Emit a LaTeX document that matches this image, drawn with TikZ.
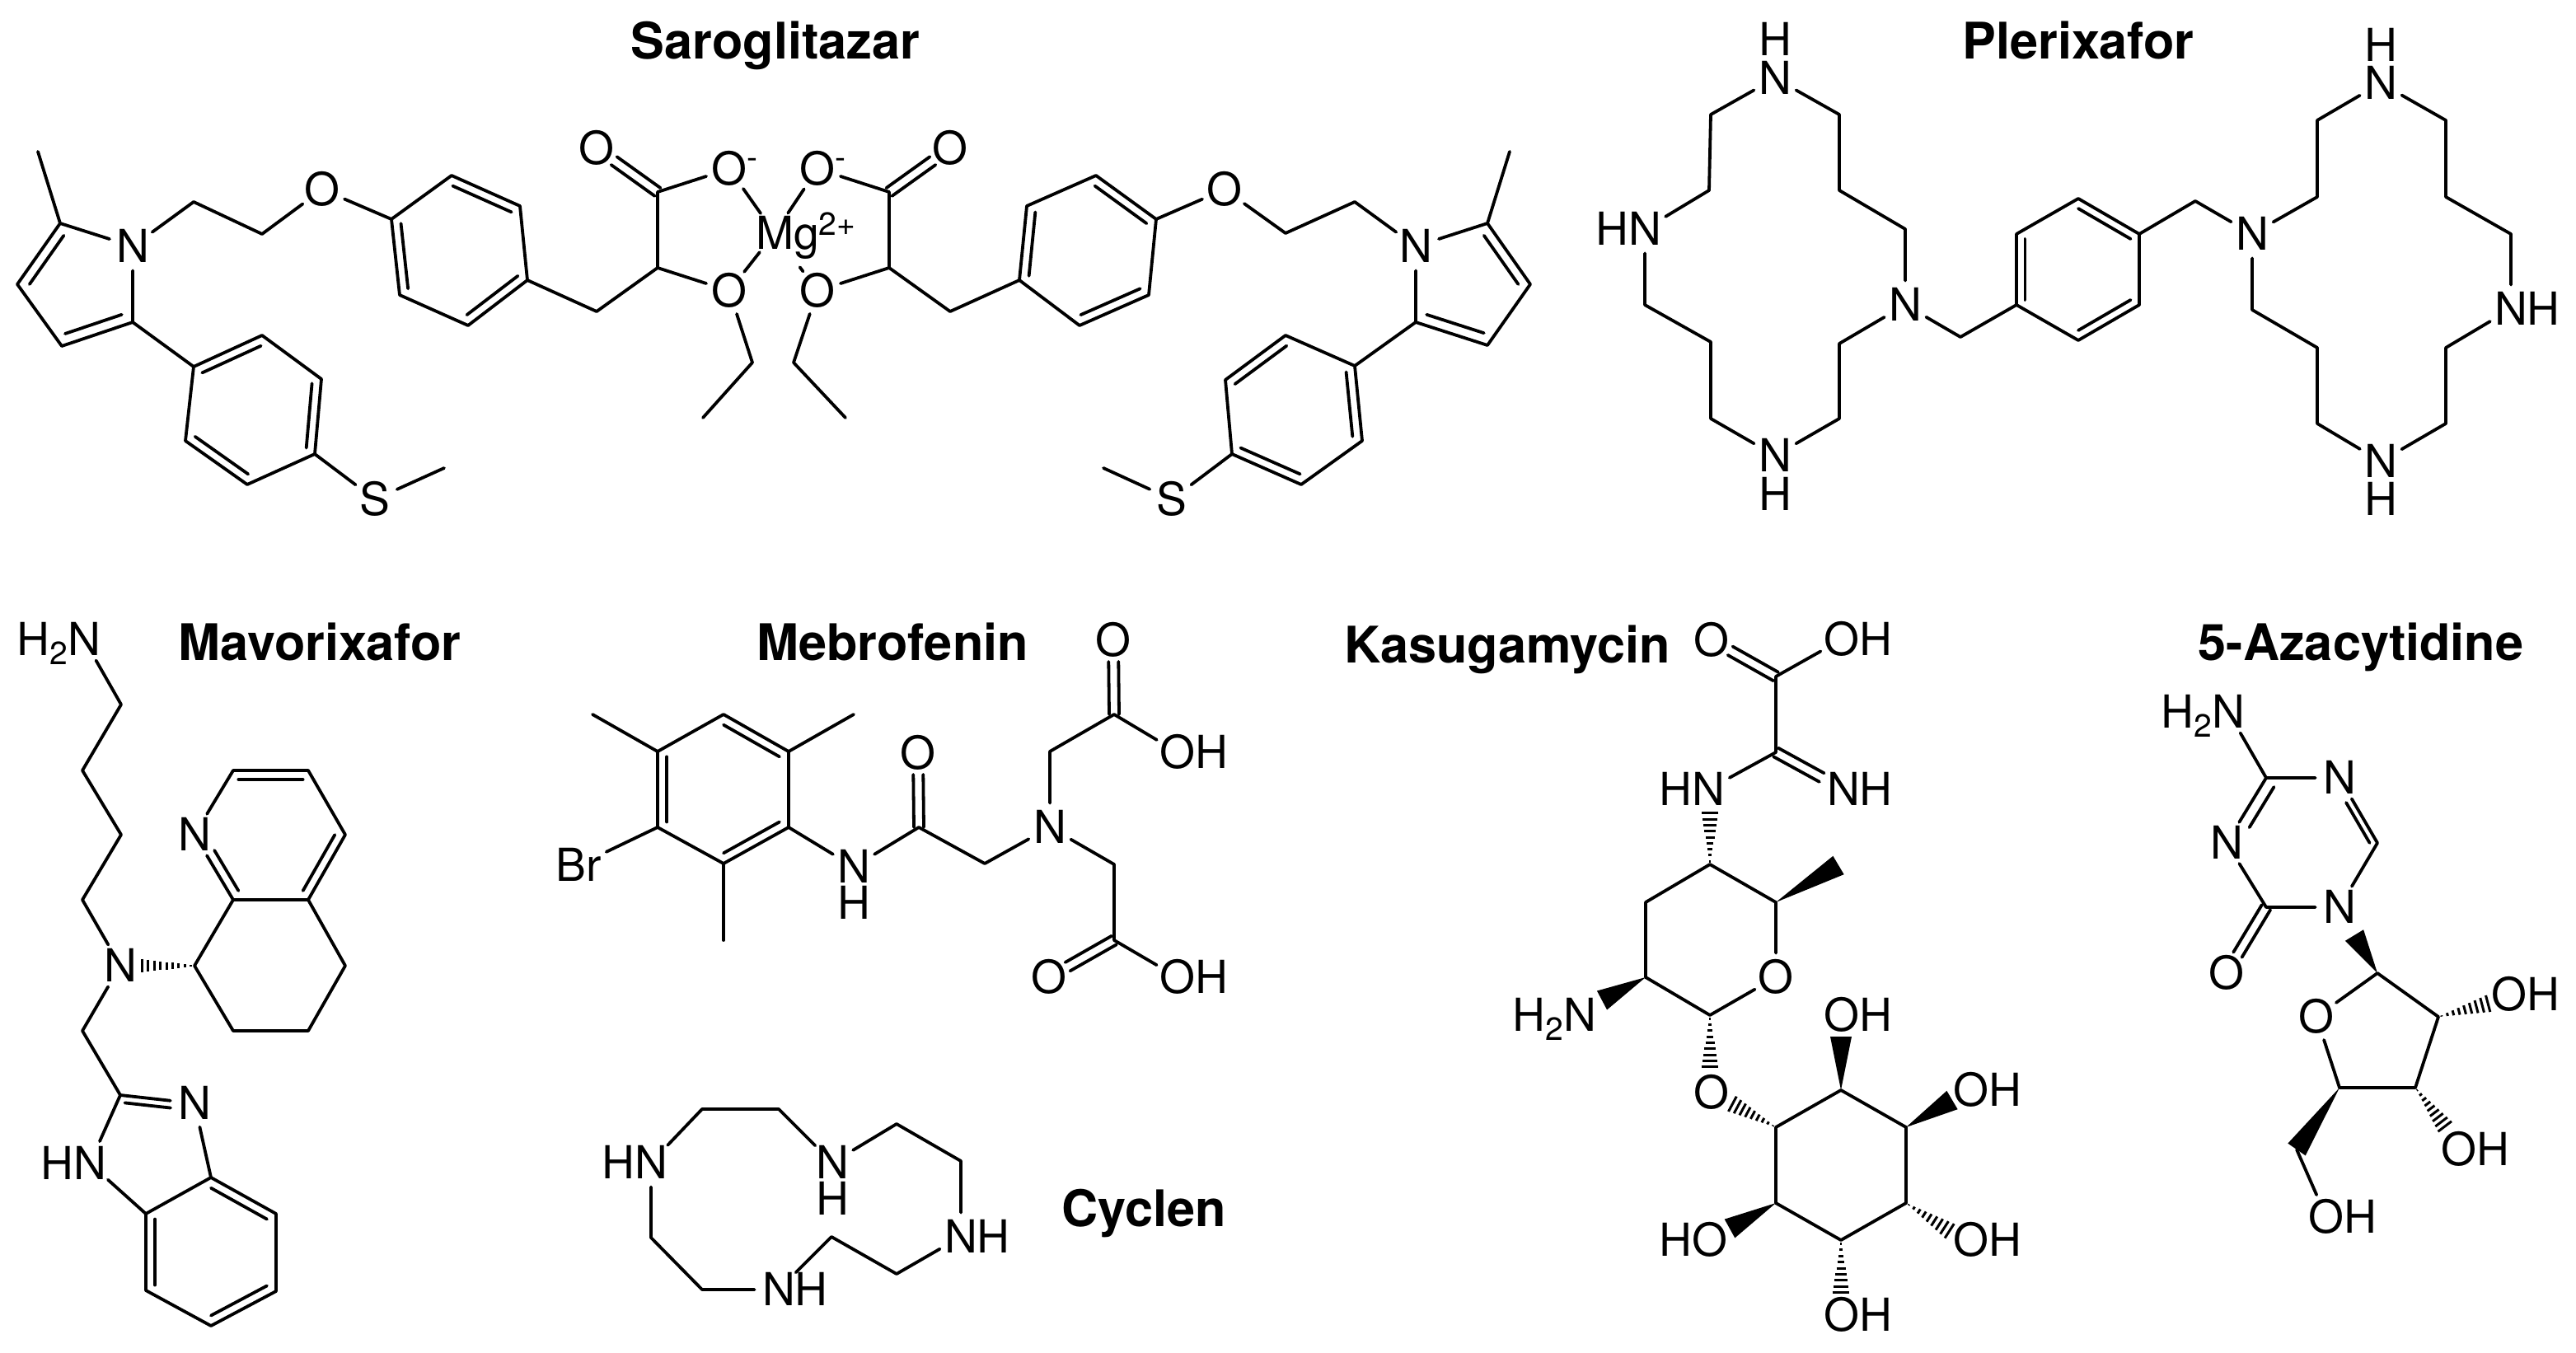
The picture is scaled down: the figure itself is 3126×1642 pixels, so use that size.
\documentclass[tikz,border=0pt]{standalone}
\usepackage{fontspec}
\setmainfont{TeX Gyre Heros}
\usetikzlibrary{calc}
\newcommand\atxt[3]{\makebox[0pt][c]{\raisebox{-.36em}[0pt][0pt]{\llap{#1}#2\rlap{#3}}}}
\newcommand\atom[5]{\node[atom] (#1) at (#2) {\atxt{#3}{#4}{#5}};}
\newcommand\lone[3]{\node[atom] (#1) at (#2) {\atxt{}{#3}{}};}
\newcommand\pts[1]{\foreach \nm/\xx/\yy in {#1} {\coordinate (\nm) at (\xx,\yy);}}
\newcommand\subtwo{\raisebox{-.2em}{\fontsize{19.5}{20}\selectfont 2}}
\newcommand\minus{\raisebox{.37em}{\fontsize{19.5}{20}\selectfont -}}
\def\rf{.14}
\newcommand\ringb[4][]{\draw[bd,#1] ($(#2)!\rf!(#4)$) -- ($(#3)!\rf!(#4)$);}
\newcommand\dblb[3][shorten >=13pt]{%
  \draw[bd,#1] ($(#2)!3pt!90:(#3)$) -- ($(#3)!3pt!-90:(#2)$);
  \draw[bd,#1] ($(#2)!3pt!-90:(#3)$) -- ($(#3)!3pt!90:(#2)$);}
\newcommand\wdg[3][6.5]{\fill[black] (#2) -- ($(#3)!#1pt!90:(#2)$) -- ($(#3)!#1pt!-90:(#2)$) -- cycle;}
\newcommand\hsh[3][5.5]{%
  \coordinate (hL) at ($(#3)!#1pt!90:(#2)$);
  \coordinate (hR) at ($(#3)!#1pt!-90:(#2)$);
  \foreach \hf in {.06,.17,.28,.39,.50,.61,.72,.83,.94}{\draw[hashb] ($(#2)!\hf!(hL)$) -- ($(#2)!\hf!(hR)$);}}
\tikzset{
  bd/.style={line width=1.9pt,line cap=round,line join=round,black},
  hashb/.style={line width=1.5pt,black},
  atom/.style={circle,inner sep=0pt,minimum size=29pt,font=\fontsize{27.6}{30}\selectfont,text=black},
  title/.style={anchor=base,inner sep=0pt,font=\fontsize{30.6}{33}\selectfont\bfseries,text=black}
}
\begin{document}
\begin{tikzpicture}[x=0.5pt,y=-0.5pt]
\fill[white] (0,0) rectangle (3126,1642);
\useasboundingbox (0,0) rectangle (3126,1642);
% titles
\node[title] (tSar) at (941,72) {Saroglitazar};
\node[title] (tPle) at (2522,72) {Plerixafor};
\node[title] (tMav) at (388,801) {Mavorixafor};
\node[title] (tMeb) at (1083,801) {Mebrofenin};
\node[title] (tKas) at (1829,804) {Kasugamycin};
\node[title] (tAza) at (2865,801) {5-Azacytidine};
\node[title] (tCyc) at (1388,1488) {Cyclen};

% ---------- Saroglitazar ----------
\pts{a1/46/184,a2/73/271,a3/21/345,a4/75/420,a5/161/391,a6/235/245,a7/318/284,
 ar1/475/266,ar2/548/213,ar3/631/250,ar4/640/340,ar5/568/395,ar6/485/358,
 a8/724/378,a9/798/325,a10/798/233,a11/913/440,a12/853/507,
 br1/235/445,br2/318/407,br3/390/460,br4/382/551,br5/300/588,br6/225/535,a13/539/568,
 apc/95/345}
\coordinate (arc) at ($(ar1)!.5!(ar4)$);
\coordinate (brc) at ($(br1)!.5!(br4)$);
\atom{aN}{161,299}{}{N}{}
\atom{aO}{391,230}{}{O}{}
\atom{aO1}{724,180}{}{O}{}
\atom{aO2}{885,205}{}{O}{\minus}
\atom{aO3}{885,353}{}{O}{}
\atom{aS}{455,606}{}{S}{}
\atom{mg}{940,283}{}{M}{g\raisebox{.31em}{\fontsize{19.5}{20}\selectfont 2+}}
\draw[bd] (a1)--(a2)--(aN)--(a5)--(a4)--(a3)--(a2);
\draw[bd] (aN)--(a6)--(a7)--(aO)--(ar1)--(ar2)--(ar3)--(ar4)--(ar5)--(ar6)--(ar1);
\draw[bd] (ar4)--(a8)--(a9)--(a10)--(aO2);
\draw[bd] (a9)--(aO3)--(a11)--(a12);
\draw[bd] (a5)--(br1)--(br2)--(br3)--(br4)--(br5)--(br6)--(br1);
\draw[bd] (br4)--(aS)--(a13);
\draw[bd] (aO2)--(mg); \draw[bd] (aO3)--(mg);
\dblb{a10}{aO1}
\def\rf{.2}
\ringb{a2}{a3}{apc} \ringb{a4}{a5}{apc}
\def\rf{.14}
\ringb{ar1}{ar6}{arc} \ringb{ar2}{ar3}{arc} \ringb{ar4}{ar5}{arc}
\ringb{br1}{br2}{brc} \ringb{br3}{br4}{brc} \ringb{br5}{br6}{brc}
% right half
\pts{c1/1832/184,c2/1805/271,c3/1857/345,c4/1805/419,c5/1718/391,c6/1644/245,c7/1560/283,
 cr1/1403/266,cr2/1330/213,cr3/1246/250,cr4/1237/340,cr5/1310/395,cr6/1394/358,
 c8/1153/378,c9/1079/325,c10/1079/233,c11/963/440,c12/1026/507,
 dr1/1644/444,dr2/1560/407,dr3/1487/461,dr4/1495/551,dr5/1579/588,dr6/1653/535,c13/1339/568,
 cpc/1784/345}
\coordinate (crc) at ($(cr1)!.5!(cr4)$);
\coordinate (drc) at ($(dr1)!.5!(dr4)$);
\atom{cN}{1718,299}{}{N}{}
\atom{cO}{1486,230}{}{O}{}
\atom{cO1}{1153,180}{}{O}{}
\atom{cO2}{992,205}{}{O}{\minus}
\atom{cO3}{992,353}{}{O}{}
\atom{cS}{1422,606}{}{S}{}
\draw[bd] (c1)--(c2)--(cN)--(c5)--(c4)--(c3)--(c2);
\draw[bd] (cN)--(c6)--(c7)--(cO)--(cr1)--(cr2)--(cr3)--(cr4)--(cr5)--(cr6)--(cr1);
\draw[bd] (cr4)--(c8)--(c9)--(c10)--(cO2);
\draw[bd] (c9)--(cO3)--(c11)--(c12);
\draw[bd] (c5)--(dr1)--(dr2)--(dr3)--(dr4)--(dr5)--(dr6)--(dr1);
\draw[bd] (dr4)--(cS)--(c13);
\draw[bd] (cO2)--(mg); \draw[bd,shorten >=11pt] (cO3)--(mg);
\dblb{c10}{cO1}
\def\rf{.2}
\ringb{c2}{c3}{cpc} \ringb{c4}{c5}{cpc}
\def\rf{.14}
\ringb{cr3}{cr4}{crc} \ringb{cr1}{cr2}{crc} \ringb{cr5}{cr6}{crc}
\ringb{dr1}{dr6}{drc} \ringb{dr2}{dr3}{drc} \ringb{dr4}{dr5}{drc}

% ---------- Plerixafor ----------
\pts{p1/2232/139,p2/2232/231,p3/2312/278,p4/2232/417,p5/2232/508,p6/2076/508,p7/2076/415,p8/1996/370,
 p9/2074/231,p10/2076/139,p11/2379/409,
 q1/2447/370,q2/2447/284,q3/2522/241,q4/2596/284,q5/2596/370,q6/2522/413,p12/2664/244,
 s1/2812/239,s2/2812/146,s3/2968/146,s4/2968/239,s5/3047/284,s6/2968/422,s7/2968/514,
 s8/2812/514,s9/2812/422,s10/2733/376}
\coordinate (qc) at ($(q1)!.5!(q4)$);
\atom{pN1}{2154,95}{}{N}{}
\lone{pH1}{2154,48}{H}
\atom{pN2}{2312,370}{}{N}{}
\atom{pN3}{2154,553}{}{N}{}
\lone{pH3}{2154,600}{H}
\atom{pN4}{1996,278}{H}{N}{}
\atom{sN1}{2733,284}{}{N}{}
\atom{sN2}{2889,101}{}{N}{}
\lone{sH2}{2889,55}{H}
\atom{sN3}{3047,375}{}{N}{H}
\atom{sN4}{2889,560}{}{N}{}
\lone{sH4}{2889,606}{H}
\draw[bd] (pN1)--(p1)--(p2)--(p3)--(pN2)--(p4)--(p5)--(pN3)--(p6)--(p7)--(p8)--(pN4)--(p9)--(p10)--(pN1);
\draw[bd] (pN2)--(p11)--(q1)--(q2)--(q3)--(q4)--(q5)--(q6)--(q1);
\draw[bd] (q4)--(p12)--(sN1)--(s1)--(s2)--(sN2)--(s3)--(s4)--(s5)--(sN3)--(s6)--(s7)--(sN4)--(s8)--(s9)--(s10)--(sN1);
\ringb{q1}{q2}{qc} \ringb{q3}{q4}{qc} \ringb{q5}{q6}{qc}

% ---------- Mavorixafor ----------
\pts{m1/147/855,m2/100/935,m3/147/1013,m4/100/1092,m5/100/1251,m6/146/1329,
 n1/177/1473,n2/256/1429,n3/335/1473,n4/335/1567,n5/256/1609,n6/177/1566,
 k1/283/1092,k2/374/1092,k3/283/935,k4/374/935,k5/419/1013,k6/419/1172,k7/374/1251,k8/283/1251,k9/236/1172,
 m7/168/1172,imc/185/1396}
\coordinate (nc) at ($(n1)!.5!(n4)$);
\coordinate (kc) at ($(k1)!.5!(k4)$);
\atom{mN0}{102,776}{H\subtwo}{N}{}
\atom{mN1}{146,1172}{}{N}{}
\atom{mN2}{236,1339}{}{N}{}
\atom{mN3}{109,1412}{H}{N}{}
\atom{mN4}{236,1013}{}{N}{}
\draw[bd] (mN0)--(m1)--(m2)--(m3)--(m4)--(mN1)--(m5)--(m6)--(mN2)--(n2);
\draw[bd] (m6)--(mN3)--(n1)--(n2)--(n3)--(n4)--(n5)--(n6)--(n1);
\draw[bd] (mN4)--(k3)--(k4)--(k5)--(k2)--(k1)--(mN4);
\draw[bd] (k1)--(k9)--(k8)--(k7)--(k6)--(k2);
\hsh[4.5]{k9}{m7}
\ringb{n1}{n6}{nc} \ringb{n2}{n3}{nc} \ringb{n4}{n5}{nc}
\ringb{k3}{k4}{kc} \ringb{k5}{k2}{kc}
\ringb[shorten <=11pt]{mN4}{k1}{kc}
\ringb[shorten >=11pt]{m6}{mN2}{imc}

% ---------- Mebrofenin ----------
\pts{e1/878/867,e2/957/912,e3/957/1004,e4/878/1048,e5/798/1004,e6/798/912,
 e7/719/867,e8/1036/867,e9/878/1141,e10/1115/1004,e11/1195/1048,e12/1274/912,e13/1352/867,e14/1352/1049,e15/1352/1141}
\coordinate (ec) at ($(e1)!.5!(e4)$);
\atom{eBr}{702,1050}{}{Br}{}
\atom{eN1}{1036,1052}{}{N}{}
\lone{eH1}{1036,1096}{H}
\atom{eO1}{1114,914}{}{O}{}
\atom{eN2}{1274,1004}{}{N}{}
\atom{eO2}{1351,777}{}{O}{}
\atom{eO3}{1429,913}{}{O}{H}
\atom{eO4}{1273,1186}{}{O}{}
\atom{eO5}{1429,1186}{}{O}{H}
\draw[bd] (e1)--(e2)--(e3)--(e4)--(e5)--(e6)--(e1);
\draw[bd] (e6)--(e7); \draw[bd] (e2)--(e8); \draw[bd] (e4)--(e9); \draw[bd,shorten >=4pt] (e5)--(eBr);
\draw[bd] (e3)--(eN1)--(e10)--(e11)--(eN2)--(e12)--(e13)--(eO3);
\draw[bd] (eN2)--(e14)--(e15)--(eO5);
\dblb{e10}{eO1} \dblb{e13}{eO2} \dblb{e15}{eO4}
\ringb{e1}{e2}{ec} \ringb{e3}{e4}{ec} \ringb{e5}{e6}{ec}

% ---------- Cyclen ----------
\pts{y1/852/1346,y2/945/1346,y3/1088/1364,y4/1166/1409,y5/1088/1546,y6/1009/1501,y7/852/1565,y8/790/1502}
\atom{yN1}{790,1411}{H}{N}{}
\atom{yN2}{1010,1411}{}{N}{}
\lone{yH2}{1010,1455}{H}
\atom{yN3}{1166,1501}{}{N}{H}
\atom{yN4}{945,1565}{}{N}{H}
\draw[bd] (yN1)--(y1)--(y2)--(yN2)--(y3)--(y4)--(yN3)--(y5)--(y6)--(yN4)--(y7)--(y8)--(yN1);

% ---------- Kasugamycin ----------
\pts{g1/2155/821,g2/2155/913,g3/2075/1049,g4/2155/1095,g5/2075/1232,g6/1997/1186,g7/1997/1095,
 g8/2231/1050,g9/2075/983,g10/1944/1214,g11/2075/1299,
 h1/2155/1368,h2/2234/1323,h3/2313/1368,h4/2313/1460,h5/2234/1505,h6/2155/1460,
 h7/2099/1338,h8/2234/1258,h9/2369/1335,h10/2369/1496,h11/2234/1573,h12/2099/1491}
\atom{gO1}{2077,777}{}{O}{}
\atom{gO2}{2235,776}{}{O}{H}
\atom{gN1}{2237,958}{}{N}{H}
\atom{gN2}{2073,958}{H}{N}{}
\atom{gO3}{2155,1186}{}{O}{}
\atom{gN3}{1917,1232}{H\subtwo}{N}{}
\atom{gO4}{2077,1326}{}{O}{}
\atom{hO1}{2235,1232}{}{O}{H}
\atom{hO2}{2392,1323}{}{O}{H}
\atom{hO3}{2392,1505}{}{O}{H}
\atom{hO4}{2235,1596}{}{O}{H}
\atom{hO5}{2075,1505}{H}{O}{}
\draw[bd] (gO2)--(g1)--(g2)--(gN2);
\dblb{g1}{gO1} \dblb[shorten >=15pt]{g2}{gN1}
\draw[bd] (g3)--(g4)--(gO3)--(g5)--(g6)--(g7)--(g3);
\draw[bd] (h1)--(h2)--(h3)--(h4)--(h5)--(h6)--(h1);
\wdg{g4}{g8} \wdg{g6}{g10} \wdg{h2}{h8} \wdg{h3}{h9} \wdg{h6}{h12}
\hsh{g3}{g9} \hsh{g5}{g11} \hsh{h1}{h7} \hsh{h4}{h10} \hsh{h5}{h11}

% ---------- 5-Azacytidine ----------
\pts{z1/2750/944,z2/2885/1023,z3/2750/1101,z4/2885/1181,z5/2959/1234,z6/2931/1320,z7/2839/1320,
 z8/2857/1135,z9/3023/1217,z10/2969/1370,z11/2787/1395}
\coordinate (zc) at ($(z1)!.5!(z3)!.5!(z2)$);
\atom{zN0}{2704,864}{H\subtwo}{N}{}
\atom{zN1}{2839,944}{}{N}{}
\atom{zN2}{2839,1101}{}{N}{}
\atom{zN3}{2702,1023}{}{N}{}
\atom{zO0}{2702,1181}{}{O}{}
\atom{zO1}{2811,1234}{}{O}{}
\atom{zO2}{3045,1207}{}{O}{H}
\atom{zO3}{2984,1395}{}{O}{H}
\atom{zO4}{2823,1477}{}{O}{H}
\draw[bd] (zN0)--(z1)--(zN1)--(z2)--(zN2)--(z3)--(zN3)--(z1);
\draw[bd] (z4)--(z5)--(z6)--(z7)--(zO1)--(z4);
\draw[bd] (z11)--(zO4);
\dblb{z3}{zO0}
\ringb[shorten >=11pt]{z1}{zN3}{zc}
\ringb[shorten <=11pt]{zN1}{z2}{zc}
\wdg{z4}{z8} \wdg{z7}{z11}
\hsh{z5}{z9} \hsh{z6}{z10}
\end{tikzpicture}
\end{document}
